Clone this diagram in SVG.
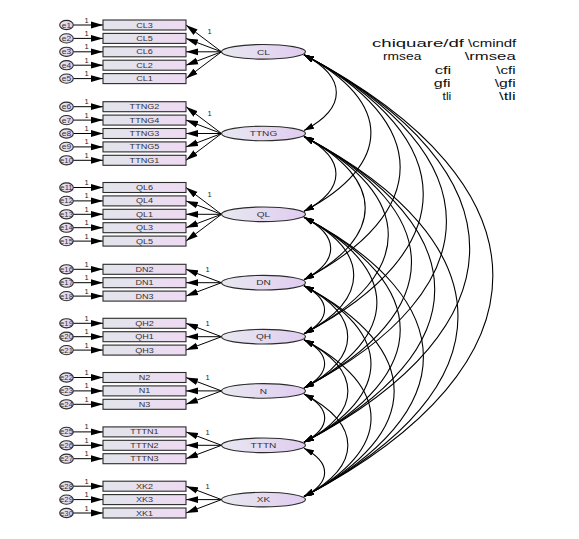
<svg xmlns="http://www.w3.org/2000/svg" width="579" height="539" viewBox="0 0 579 539">
<style>
.bg{fill:#ffffff}
.box{fill:url(#gBox);stroke:#2b2b2b;stroke-width:1.1}
.lat{fill:url(#gLat);stroke:#2b2b2b;stroke-width:1.1}
.err{fill:url(#gLat);stroke:#2b2b2b;stroke-width:1.1}
.t{font-family:"Liberation Sans",Arial,sans-serif;font-size:7px;fill:#333;text-anchor:middle}
.tf{font-family:"Liberation Sans",Arial,sans-serif;font-size:7.5px;fill:#333;text-anchor:middle}
.one{font-family:"Liberation Sans",Arial,sans-serif;font-size:7.5px;fill:#222;text-anchor:middle}
.fit{font-family:"Liberation Sans",Arial,sans-serif;font-size:11.5px;fill:#111}
.ln{stroke:#000;stroke-width:1;fill:none;marker-end:url(#ah)}
.cv{stroke:#000;stroke-width:1.1;fill:none;marker-start:url(#ca);marker-end:url(#ca)}
</style>
<defs>
<linearGradient id="gBox" x1="0" y1="0" x2="1" y2="0">
<stop offset="0" stop-color="#e1e5ea"/><stop offset="1" stop-color="#eedaf3"/>
</linearGradient>
<linearGradient id="gLat" x1="0" y1="0" x2="1" y2="0">
<stop offset="0" stop-color="#e8e8f0"/><stop offset="1" stop-color="#e0ccf0"/>
</linearGradient>
<marker id="ah" markerUnits="userSpaceOnUse" markerWidth="13" markerHeight="8" refX="12" refY="4" orient="auto">
<path d="M0,0.6 L12,4 L0,7.4 z" fill="#000"/>
</marker>
<marker id="ca" markerUnits="userSpaceOnUse" markerWidth="11" markerHeight="7" refX="10" refY="3.5" orient="auto-start-reverse">
<path d="M0,0.4 L10,3.5 L0,6.6 z" fill="#000"/>
</marker>
</defs>
<rect class="bg" x="0" y="0" width="579" height="539"/>

<g id="connectors">
<g id="error-paths">
<line class="ln" x1="73.3" y1="25" x2="103" y2="25"/>
<line class="ln" x1="73.3" y1="38.4" x2="103" y2="38.4"/>
<line class="ln" x1="73.3" y1="51.8" x2="103" y2="51.8"/>
<line class="ln" x1="73.3" y1="65.2" x2="103" y2="65.2"/>
<line class="ln" x1="73.3" y1="78.6" x2="103" y2="78.6"/>
<line class="ln" x1="73.3" y1="106.7" x2="103" y2="106.7"/>
<line class="ln" x1="73.3" y1="120.1" x2="103" y2="120.1"/>
<line class="ln" x1="73.3" y1="133.5" x2="103" y2="133.5"/>
<line class="ln" x1="73.3" y1="146.9" x2="103" y2="146.9"/>
<line class="ln" x1="73.3" y1="160.3" x2="103" y2="160.3"/>
<line class="ln" x1="73.3" y1="187.5" x2="103" y2="187.5"/>
<line class="ln" x1="73.3" y1="200.9" x2="103" y2="200.9"/>
<line class="ln" x1="73.3" y1="214.3" x2="103" y2="214.3"/>
<line class="ln" x1="73.3" y1="227.7" x2="103" y2="227.7"/>
<line class="ln" x1="73.3" y1="241.1" x2="103" y2="241.1"/>
<line class="ln" x1="73.3" y1="269.3" x2="103" y2="269.3"/>
<line class="ln" x1="73.3" y1="282.7" x2="103" y2="282.7"/>
<line class="ln" x1="73.3" y1="296.1" x2="103" y2="296.1"/>
<line class="ln" x1="73.3" y1="323.3" x2="103" y2="323.3"/>
<line class="ln" x1="73.3" y1="336.7" x2="103" y2="336.7"/>
<line class="ln" x1="73.3" y1="350.1" x2="103" y2="350.1"/>
<line class="ln" x1="73.3" y1="377.5" x2="103" y2="377.5"/>
<line class="ln" x1="73.3" y1="390.9" x2="103" y2="390.9"/>
<line class="ln" x1="73.3" y1="404.3" x2="103" y2="404.3"/>
<line class="ln" x1="73.3" y1="431.9" x2="103" y2="431.9"/>
<line class="ln" x1="73.3" y1="445.3" x2="103" y2="445.3"/>
<line class="ln" x1="73.3" y1="458.7" x2="103" y2="458.7"/>
<line class="ln" x1="73.3" y1="486.2" x2="103" y2="486.2"/>
<line class="ln" x1="73.3" y1="499.6" x2="103" y2="499.6"/>
<line class="ln" x1="73.3" y1="513" x2="103" y2="513"/>
</g>
<g id="loadings">
<line class="ln" x1="221.5" y1="51.8" x2="186" y2="25"/>
<line class="ln" x1="221.5" y1="51.8" x2="186" y2="38.4"/>
<line class="ln" x1="221.5" y1="51.8" x2="186" y2="51.8"/>
<line class="ln" x1="221.5" y1="51.8" x2="186" y2="65.2"/>
<line class="ln" x1="221.5" y1="51.8" x2="186" y2="78.6"/>
<line class="ln" x1="221.5" y1="133.5" x2="186" y2="106.7"/>
<line class="ln" x1="221.5" y1="133.5" x2="186" y2="120.1"/>
<line class="ln" x1="221.5" y1="133.5" x2="186" y2="133.5"/>
<line class="ln" x1="221.5" y1="133.5" x2="186" y2="146.9"/>
<line class="ln" x1="221.5" y1="133.5" x2="186" y2="160.3"/>
<line class="ln" x1="221.5" y1="214.3" x2="186" y2="187.5"/>
<line class="ln" x1="221.5" y1="214.3" x2="186" y2="200.9"/>
<line class="ln" x1="221.5" y1="214.3" x2="186" y2="214.3"/>
<line class="ln" x1="221.5" y1="214.3" x2="186" y2="227.7"/>
<line class="ln" x1="221.5" y1="214.3" x2="186" y2="241.1"/>
<line class="ln" x1="221.5" y1="282.7" x2="186" y2="269.3"/>
<line class="ln" x1="221.5" y1="282.7" x2="186" y2="282.7"/>
<line class="ln" x1="221.5" y1="282.7" x2="186" y2="296.1"/>
<line class="ln" x1="221.5" y1="336.7" x2="186" y2="323.3"/>
<line class="ln" x1="221.5" y1="336.7" x2="186" y2="336.7"/>
<line class="ln" x1="221.5" y1="336.7" x2="186" y2="350.1"/>
<line class="ln" x1="221.5" y1="390.9" x2="186" y2="377.5"/>
<line class="ln" x1="221.5" y1="390.9" x2="186" y2="390.9"/>
<line class="ln" x1="221.5" y1="390.9" x2="186" y2="404.3"/>
<line class="ln" x1="221.5" y1="445.3" x2="186" y2="431.9"/>
<line class="ln" x1="221.5" y1="445.3" x2="186" y2="445.3"/>
<line class="ln" x1="221.5" y1="445.3" x2="186" y2="458.7"/>
<line class="ln" x1="221.5" y1="499.6" x2="186" y2="486.2"/>
<line class="ln" x1="221.5" y1="499.6" x2="186" y2="499.6"/>
<line class="ln" x1="221.5" y1="499.6" x2="186" y2="513"/>
</g>
<g id="covariances">
<path class="cv" d="M304,54.8 C347.1,77.5 347.1,107.8 304,130.5"/>
<path class="cv" d="M304,54.8 C393.2,101.8 393.2,164.3 304,211.3"/>
<path class="cv" d="M304,54.8 C432.2,122.3 432.2,212.2 304,279.7"/>
<path class="cv" d="M304,54.8 C463,138.5 463,250 304,333.7"/>
<path class="cv" d="M304,54.8 C493.9,154.7 493.9,288 304,387.9"/>
<path class="cv" d="M304,54.8 C524.9,171.1 524.9,326 304,442.3"/>
<path class="cv" d="M304,54.8 C555.8,187.3 555.8,364.1 304,496.6"/>
<path class="cv" d="M304,136.5 C346.6,158.9 346.6,188.9 304,211.3"/>
<path class="cv" d="M304,136.5 C385.6,179.5 385.6,236.7 304,279.7"/>
<path class="cv" d="M304,136.5 C416.4,195.7 416.4,274.5 304,333.7"/>
<path class="cv" d="M304,136.5 C447.3,211.9 447.3,312.5 304,387.9"/>
<path class="cv" d="M304,136.5 C478.3,228.2 478.3,350.6 304,442.3"/>
<path class="cv" d="M304,136.5 C509.3,244.5 509.3,388.6 304,496.6"/>
<path class="cv" d="M304,217.3 C339.6,236 339.6,261 304,279.7"/>
<path class="cv" d="M304,217.3 C370.3,252.2 370.3,298.8 304,333.7"/>
<path class="cv" d="M304,217.3 C401.2,268.5 401.2,336.7 304,387.9"/>
<path class="cv" d="M304,217.3 C432.3,284.8 432.3,374.8 304,442.3"/>
<path class="cv" d="M304,217.3 C463.2,301.1 463.2,412.8 304,496.6"/>
<path class="cv" d="M304,285.7 C331.4,300.1 331.4,319.3 304,333.7"/>
<path class="cv" d="M304,285.7 C362.3,316.4 362.3,357.2 304,387.9"/>
<path class="cv" d="M304,285.7 C393.3,332.7 393.3,395.3 304,442.3"/>
<path class="cv" d="M304,285.7 C424.2,349 424.2,433.3 304,496.6"/>
<path class="cv" d="M304,339.7 C331.5,354.2 331.5,373.4 304,387.9"/>
<path class="cv" d="M304,339.7 C362.5,370.5 362.5,411.5 304,442.3"/>
<path class="cv" d="M304,339.7 C393.4,386.8 393.4,449.5 304,496.6"/>
<path class="cv" d="M304,393.9 C331.6,408.4 331.6,427.8 304,442.3"/>
<path class="cv" d="M304,393.9 C362.5,424.7 362.5,465.8 304,496.6"/>
<path class="cv" d="M304,448.3 C331.5,462.8 331.5,482.1 304,496.6"/>
</g>
<g id="fixed-labels">
<text class="one" x="86.5" y="22.5">1</text>
<text class="one" x="86.5" y="35.9">1</text>
<text class="one" x="86.5" y="49.3">1</text>
<text class="one" x="86.5" y="62.7">1</text>
<text class="one" x="86.5" y="76.1">1</text>
<text class="one" x="86.5" y="104.2">1</text>
<text class="one" x="86.5" y="117.6">1</text>
<text class="one" x="86.5" y="131">1</text>
<text class="one" x="86.5" y="144.4">1</text>
<text class="one" x="86.5" y="157.8">1</text>
<text class="one" x="86.5" y="185">1</text>
<text class="one" x="86.5" y="198.4">1</text>
<text class="one" x="86.5" y="211.8">1</text>
<text class="one" x="86.5" y="225.2">1</text>
<text class="one" x="86.5" y="238.6">1</text>
<text class="one" x="86.5" y="266.8">1</text>
<text class="one" x="86.5" y="280.2">1</text>
<text class="one" x="86.5" y="293.6">1</text>
<text class="one" x="86.5" y="320.8">1</text>
<text class="one" x="86.5" y="334.2">1</text>
<text class="one" x="86.5" y="347.6">1</text>
<text class="one" x="86.5" y="375">1</text>
<text class="one" x="86.5" y="388.4">1</text>
<text class="one" x="86.5" y="401.8">1</text>
<text class="one" x="86.5" y="429.4">1</text>
<text class="one" x="86.5" y="442.8">1</text>
<text class="one" x="86.5" y="456.2">1</text>
<text class="one" x="86.5" y="483.7">1</text>
<text class="one" x="86.5" y="497.1">1</text>
<text class="one" x="86.5" y="510.5">1</text>
<text class="one" x="209.5" y="34.3">1</text>
<text class="one" x="209.5" y="116">1</text>
<text class="one" x="209.5" y="196.8">1</text>
<text class="one" x="207.5" y="272">1</text>
<text class="one" x="207.5" y="326">1</text>
<text class="one" x="207.5" y="380.2">1</text>
<text class="one" x="207.5" y="434.6">1</text>
<text class="one" x="207.5" y="488.9">1</text>
</g>
</g>

<g id="errors">
<g id="e1"><ellipse class="err" cx="66.5" cy="25" rx="6.8" ry="4.6"/><text class="t" transform="matrix(1.2,0,0,1,66.5,27.5)">e1</text></g>
<g id="e2"><ellipse class="err" cx="66.5" cy="38.4" rx="6.8" ry="4.6"/><text class="t" transform="matrix(1.2,0,0,1,66.5,40.9)">e2</text></g>
<g id="e3"><ellipse class="err" cx="66.5" cy="51.8" rx="6.8" ry="4.6"/><text class="t" transform="matrix(1.2,0,0,1,66.5,54.3)">e3</text></g>
<g id="e4"><ellipse class="err" cx="66.5" cy="65.2" rx="6.8" ry="4.6"/><text class="t" transform="matrix(1.2,0,0,1,66.5,67.7)">e4</text></g>
<g id="e5"><ellipse class="err" cx="66.5" cy="78.6" rx="6.8" ry="4.6"/><text class="t" transform="matrix(1.2,0,0,1,66.5,81.1)">e5</text></g>
<g id="e6"><ellipse class="err" cx="66.5" cy="106.7" rx="6.8" ry="4.6"/><text class="t" transform="matrix(1.2,0,0,1,66.5,109.2)">e6</text></g>
<g id="e7"><ellipse class="err" cx="66.5" cy="120.1" rx="6.8" ry="4.6"/><text class="t" transform="matrix(1.2,0,0,1,66.5,122.6)">e7</text></g>
<g id="e8"><ellipse class="err" cx="66.5" cy="133.5" rx="6.8" ry="4.6"/><text class="t" transform="matrix(1.2,0,0,1,66.5,136)">e8</text></g>
<g id="e9"><ellipse class="err" cx="66.5" cy="146.9" rx="6.8" ry="4.6"/><text class="t" transform="matrix(1.2,0,0,1,66.5,149.4)">e9</text></g>
<g id="e10"><ellipse class="err" cx="66.5" cy="160.3" rx="6.8" ry="4.6"/><text class="t" transform="matrix(1.1,0,0,1,66.5,162.8)">e10</text></g>
<g id="e11"><ellipse class="err" cx="66.5" cy="187.5" rx="6.8" ry="4.6"/><text class="t" transform="matrix(1.1,0,0,1,66.5,190)">e11</text></g>
<g id="e12"><ellipse class="err" cx="66.5" cy="200.9" rx="6.8" ry="4.6"/><text class="t" transform="matrix(1.1,0,0,1,66.5,203.4)">e12</text></g>
<g id="e13"><ellipse class="err" cx="66.5" cy="214.3" rx="6.8" ry="4.6"/><text class="t" transform="matrix(1.1,0,0,1,66.5,216.8)">e13</text></g>
<g id="e14"><ellipse class="err" cx="66.5" cy="227.7" rx="6.8" ry="4.6"/><text class="t" transform="matrix(1.1,0,0,1,66.5,230.2)">e14</text></g>
<g id="e15"><ellipse class="err" cx="66.5" cy="241.1" rx="6.8" ry="4.6"/><text class="t" transform="matrix(1.1,0,0,1,66.5,243.6)">e15</text></g>
<g id="e16"><ellipse class="err" cx="66.5" cy="269.3" rx="6.8" ry="4.6"/><text class="t" transform="matrix(1.1,0,0,1,66.5,271.8)">e16</text></g>
<g id="e17"><ellipse class="err" cx="66.5" cy="282.7" rx="6.8" ry="4.6"/><text class="t" transform="matrix(1.1,0,0,1,66.5,285.2)">e17</text></g>
<g id="e18"><ellipse class="err" cx="66.5" cy="296.1" rx="6.8" ry="4.6"/><text class="t" transform="matrix(1.1,0,0,1,66.5,298.6)">e18</text></g>
<g id="e19"><ellipse class="err" cx="66.5" cy="323.3" rx="6.8" ry="4.6"/><text class="t" transform="matrix(1.1,0,0,1,66.5,325.8)">e19</text></g>
<g id="e20"><ellipse class="err" cx="66.5" cy="336.7" rx="6.8" ry="4.6"/><text class="t" transform="matrix(1.1,0,0,1,66.5,339.2)">e20</text></g>
<g id="e21"><ellipse class="err" cx="66.5" cy="350.1" rx="6.8" ry="4.6"/><text class="t" transform="matrix(1.1,0,0,1,66.5,352.6)">e21</text></g>
<g id="e22"><ellipse class="err" cx="66.5" cy="377.5" rx="6.8" ry="4.6"/><text class="t" transform="matrix(1.1,0,0,1,66.5,380)">e22</text></g>
<g id="e23"><ellipse class="err" cx="66.5" cy="390.9" rx="6.8" ry="4.6"/><text class="t" transform="matrix(1.1,0,0,1,66.5,393.4)">e23</text></g>
<g id="e24"><ellipse class="err" cx="66.5" cy="404.3" rx="6.8" ry="4.6"/><text class="t" transform="matrix(1.1,0,0,1,66.5,406.8)">e24</text></g>
<g id="e25"><ellipse class="err" cx="66.5" cy="431.9" rx="6.8" ry="4.6"/><text class="t" transform="matrix(1.1,0,0,1,66.5,434.4)">e25</text></g>
<g id="e26"><ellipse class="err" cx="66.5" cy="445.3" rx="6.8" ry="4.6"/><text class="t" transform="matrix(1.1,0,0,1,66.5,447.8)">e26</text></g>
<g id="e27"><ellipse class="err" cx="66.5" cy="458.7" rx="6.8" ry="4.6"/><text class="t" transform="matrix(1.1,0,0,1,66.5,461.2)">e27</text></g>
<g id="e28"><ellipse class="err" cx="66.5" cy="486.2" rx="6.8" ry="4.6"/><text class="t" transform="matrix(1.1,0,0,1,66.5,488.7)">e28</text></g>
<g id="e29"><ellipse class="err" cx="66.5" cy="499.6" rx="6.8" ry="4.6"/><text class="t" transform="matrix(1.1,0,0,1,66.5,502.1)">e29</text></g>
<g id="e30"><ellipse class="err" cx="66.5" cy="513" rx="6.8" ry="4.6"/><text class="t" transform="matrix(1.1,0,0,1,66.5,515.5)">e30</text></g>
</g>

<g id="indicators">
<g id="CL3"><rect class="box" x="103" y="20" width="83" height="10"/><text class="t" transform="matrix(1.3,0,0,1,144.5,27.5)">CL3</text></g>
<g id="CL5"><rect class="box" x="103" y="33.4" width="83" height="10"/><text class="t" transform="matrix(1.3,0,0,1,144.5,40.9)">CL5</text></g>
<g id="CL6"><rect class="box" x="103" y="46.8" width="83" height="10"/><text class="t" transform="matrix(1.3,0,0,1,144.5,54.3)">CL6</text></g>
<g id="CL2"><rect class="box" x="103" y="60.2" width="83" height="10"/><text class="t" transform="matrix(1.3,0,0,1,144.5,67.7)">CL2</text></g>
<g id="CL1"><rect class="box" x="103" y="73.6" width="83" height="10"/><text class="t" transform="matrix(1.3,0,0,1,144.5,81.1)">CL1</text></g>
<g id="TTNG2"><rect class="box" x="103" y="101.7" width="83" height="10"/><text class="t" transform="matrix(1.3,0,0,1,144.5,109.2)">TTNG2</text></g>
<g id="TTNG4"><rect class="box" x="103" y="115.1" width="83" height="10"/><text class="t" transform="matrix(1.3,0,0,1,144.5,122.6)">TTNG4</text></g>
<g id="TTNG3"><rect class="box" x="103" y="128.5" width="83" height="10"/><text class="t" transform="matrix(1.3,0,0,1,144.5,136)">TTNG3</text></g>
<g id="TTNG5"><rect class="box" x="103" y="141.9" width="83" height="10"/><text class="t" transform="matrix(1.3,0,0,1,144.5,149.4)">TTNG5</text></g>
<g id="TTNG1"><rect class="box" x="103" y="155.3" width="83" height="10"/><text class="t" transform="matrix(1.3,0,0,1,144.5,162.8)">TTNG1</text></g>
<g id="QL6"><rect class="box" x="103" y="182.5" width="83" height="10"/><text class="t" transform="matrix(1.3,0,0,1,144.5,190)">QL6</text></g>
<g id="QL4"><rect class="box" x="103" y="195.9" width="83" height="10"/><text class="t" transform="matrix(1.3,0,0,1,144.5,203.4)">QL4</text></g>
<g id="QL1"><rect class="box" x="103" y="209.3" width="83" height="10"/><text class="t" transform="matrix(1.3,0,0,1,144.5,216.8)">QL1</text></g>
<g id="QL3"><rect class="box" x="103" y="222.7" width="83" height="10"/><text class="t" transform="matrix(1.3,0,0,1,144.5,230.2)">QL3</text></g>
<g id="QL5"><rect class="box" x="103" y="236.1" width="83" height="10"/><text class="t" transform="matrix(1.3,0,0,1,144.5,243.6)">QL5</text></g>
<g id="DN2"><rect class="box" x="103" y="264.3" width="83" height="10"/><text class="t" transform="matrix(1.3,0,0,1,144.5,271.8)">DN2</text></g>
<g id="DN1"><rect class="box" x="103" y="277.7" width="83" height="10"/><text class="t" transform="matrix(1.3,0,0,1,144.5,285.2)">DN1</text></g>
<g id="DN3"><rect class="box" x="103" y="291.1" width="83" height="10"/><text class="t" transform="matrix(1.3,0,0,1,144.5,298.6)">DN3</text></g>
<g id="QH2"><rect class="box" x="103" y="318.3" width="83" height="10"/><text class="t" transform="matrix(1.3,0,0,1,144.5,325.8)">QH2</text></g>
<g id="QH1"><rect class="box" x="103" y="331.7" width="83" height="10"/><text class="t" transform="matrix(1.3,0,0,1,144.5,339.2)">QH1</text></g>
<g id="QH3"><rect class="box" x="103" y="345.1" width="83" height="10"/><text class="t" transform="matrix(1.3,0,0,1,144.5,352.6)">QH3</text></g>
<g id="N2"><rect class="box" x="103" y="372.5" width="83" height="10"/><text class="t" transform="matrix(1.3,0,0,1,144.5,380)">N2</text></g>
<g id="N1"><rect class="box" x="103" y="385.9" width="83" height="10"/><text class="t" transform="matrix(1.3,0,0,1,144.5,393.4)">N1</text></g>
<g id="N3"><rect class="box" x="103" y="399.3" width="83" height="10"/><text class="t" transform="matrix(1.3,0,0,1,144.5,406.8)">N3</text></g>
<g id="TTTN1"><rect class="box" x="103" y="426.9" width="83" height="10"/><text class="t" transform="matrix(1.3,0,0,1,144.5,434.4)">TTTN1</text></g>
<g id="TTTN2"><rect class="box" x="103" y="440.3" width="83" height="10"/><text class="t" transform="matrix(1.3,0,0,1,144.5,447.8)">TTTN2</text></g>
<g id="TTTN3"><rect class="box" x="103" y="453.7" width="83" height="10"/><text class="t" transform="matrix(1.3,0,0,1,144.5,461.2)">TTTN3</text></g>
<g id="XK2"><rect class="box" x="103" y="481.2" width="83" height="10"/><text class="t" transform="matrix(1.3,0,0,1,144.5,488.7)">XK2</text></g>
<g id="XK3"><rect class="box" x="103" y="494.6" width="83" height="10"/><text class="t" transform="matrix(1.3,0,0,1,144.5,502.1)">XK3</text></g>
<g id="XK1"><rect class="box" x="103" y="508" width="83" height="10"/><text class="t" transform="matrix(1.3,0,0,1,144.5,515.5)">XK1</text></g>
</g>

<g id="factors">
<g id="CL"><ellipse class="lat" cx="263.5" cy="51.8" rx="42" ry="7.3"/><text class="tf" transform="matrix(1.35,0,0,1,263.5,54.5)">CL</text></g>
<g id="TTNG"><ellipse class="lat" cx="263.5" cy="133.5" rx="42" ry="7.3"/><text class="tf" transform="matrix(1.35,0,0,1,263.5,136.2)">TTNG</text></g>
<g id="QL"><ellipse class="lat" cx="263.5" cy="214.3" rx="42" ry="7.3"/><text class="tf" transform="matrix(1.35,0,0,1,263.5,217)">QL</text></g>
<g id="DN"><ellipse class="lat" cx="263.5" cy="282.7" rx="42" ry="7.3"/><text class="tf" transform="matrix(1.35,0,0,1,263.5,285.4)">DN</text></g>
<g id="QH"><ellipse class="lat" cx="263.5" cy="336.7" rx="42" ry="7.3"/><text class="tf" transform="matrix(1.35,0,0,1,263.5,339.4)">QH</text></g>
<g id="N"><ellipse class="lat" cx="263.5" cy="390.9" rx="42" ry="7.3"/><text class="tf" transform="matrix(1.35,0,0,1,263.5,393.6)">N</text></g>
<g id="TTTN"><ellipse class="lat" cx="263.5" cy="445.3" rx="42" ry="7.3"/><text class="tf" transform="matrix(1.35,0,0,1,263.5,448)">TTTN</text></g>
<g id="XK"><ellipse class="lat" cx="263.5" cy="499.6" rx="42" ry="7.3"/><text class="tf" transform="matrix(1.35,0,0,1,263.5,502.3)">XK</text></g>
</g>

<g id="fit-indices">
<text class="fit" x="372" y="47" textLength="92" lengthAdjust="spacingAndGlyphs">chiquare/df</text>
<text class="fit" x="468" y="47" textLength="48.3" lengthAdjust="spacingAndGlyphs">\cmindf</text>
<text class="fit" x="383" y="60.3" textLength="38.3" lengthAdjust="spacingAndGlyphs">rmsea</text>
<text class="fit" x="464.7" y="60.3" textLength="51" lengthAdjust="spacingAndGlyphs">\rmsea</text>
<text class="fit" x="434.7" y="73.7" textLength="16.6" lengthAdjust="spacingAndGlyphs">cfi</text>
<text class="fit" x="496.3" y="73.7" textLength="19.4" lengthAdjust="spacingAndGlyphs">\cfi</text>
<text class="fit" x="433.7" y="87" textLength="17" lengthAdjust="spacingAndGlyphs">gfi</text>
<text class="fit" x="494.7" y="87" textLength="21" lengthAdjust="spacingAndGlyphs">\gfi</text>
<text class="fit" x="442.5" y="100.3" textLength="8.8" lengthAdjust="spacingAndGlyphs">tli</text>
<text class="fit" x="499" y="100.3" textLength="16.7" lengthAdjust="spacingAndGlyphs">\tli</text>
</g>
</svg>
